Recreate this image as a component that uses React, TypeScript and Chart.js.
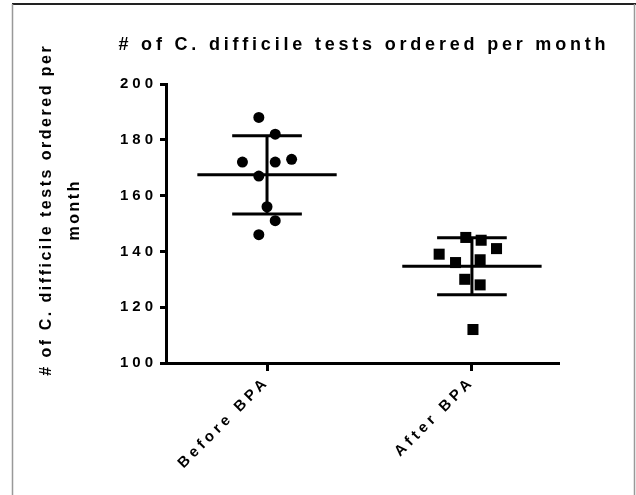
import { useEffect, useRef } from "react";
import { Chart, registerables } from "chart.js";

Chart.register(...registerables);

const categories = ["Before BPA", "After BPA"];
const beforeValues = [188, 182, 172, 172, 173, 167, 156, 151, 146];
const beforeJitter = [-0.04, 0.04, -0.12, 0.04, 0.12, -0.04, 0, 0.04, -0.04];
const afterValues = [145, 144, 139, 141, 136, 137, 130, 128, 112];
const afterJitter = [-0.03, 0.045, -0.16, 0.12, -0.08, 0.04, -0.035, 0.04, 0.005];
const yMin = 100;
const yMax = 200;
const yStep = 20;
const titleText = "# of C. difficile tests ordered per month";
const yTitleLines = ["# of C. difficile tests ordered per", "month"];

const FONT = "'Liberation Sans', Arial, Helvetica, sans-serif";
const TICK_SPACING = 4;

function meanSd(v: number[]) {
  const m = v.reduce((a, b) => a + b, 0) / v.length;
  const sd = Math.sqrt(v.reduce((a, b) => a + (b - m) * (b - m), 0) / (v.length - 1));
  return { m, sd };
}

const groups = [beforeValues, afterValues];

const spacingPlugin = {
  id: "spacing",
  beforeLayout(chart: any) {
    chart.ctx.letterSpacing = TICK_SPACING + "px";
  },
  beforeDraw(chart: any) {
    const ctx = chart.ctx;
    ctx.letterSpacing = TICK_SPACING + "px";
    ctx.save();
    ctx.fillStyle = "#fff";
    ctx.fillRect(0, 0, chart.width, chart.height);
    ctx.strokeStyle = "#222";
    ctx.lineWidth = 2;
    ctx.beginPath();
    ctx.moveTo(12, 4);
    ctx.lineTo(636, 4);
    ctx.stroke();
    ctx.strokeStyle = "#999";
    ctx.lineWidth = 1.5;
    ctx.beginPath();
    ctx.moveTo(12.5, 4);
    ctx.lineTo(12.5, 495);
    ctx.moveTo(634.5, 4);
    ctx.lineTo(634.5, 495);
    ctx.stroke();
    ctx.restore();
  },
};

const errorPlugin = {
  id: "errorbars",
  afterDatasetsDraw(chart: any) {
    const ctx = chart.ctx;
    const xs = chart.scales.x;
    const ys = chart.scales.y;
    ctx.save();
    ctx.strokeStyle = "#000";
    ctx.lineWidth = 3;
    groups.forEach((vals, i) => {
      const { m, sd } = meanSd(vals);
      const c = i + 1;
      const ym = ys.getPixelForValue(m);
      const yh = ys.getPixelForValue(m + sd);
      const yl = ys.getPixelForValue(m - sd);
      ctx.beginPath();
      ctx.moveTo(xs.getPixelForValue(c - 0.34), ym);
      ctx.lineTo(xs.getPixelForValue(c + 0.34), ym);
      ctx.moveTo(xs.getPixelForValue(c - 0.17), yh);
      ctx.lineTo(xs.getPixelForValue(c + 0.17), yh);
      ctx.moveTo(xs.getPixelForValue(c - 0.17), yl);
      ctx.lineTo(xs.getPixelForValue(c + 0.17), yl);
      ctx.moveTo(xs.getPixelForValue(c), yh);
      ctx.lineTo(xs.getPixelForValue(c), yl);
      ctx.stroke();
    });
    ctx.restore();
  },
  afterDraw(chart: any) {
    const ctx = chart.ctx;
    const area = chart.chartArea;
    ctx.save();
    ctx.fillStyle = "#000";
    ctx.textBaseline = "middle";
    ctx.textAlign = "left";
    // title
    ctx.font = `bold 18px ${FONT}`;
    ctx.letterSpacing = "3.8px";
    const w = ctx.measureText(titleText).width - 3.8;
    ctx.fillText(titleText, (area.left + area.right) / 2 - w / 2, 45);
    // y title
    ctx.font = `bold 16px ${FONT}`;
    ctx.letterSpacing = "2.5px";
    const xsPos = [47, 75];
    yTitleLines.forEach((line, i) => {
      const lw = ctx.measureText(line).width - 2.5;
      ctx.save();
      ctx.translate(xsPos[i], 211);
      ctx.rotate(-Math.PI / 2);
      ctx.fillText(line, -lw / 2, 0);
      ctx.restore();
    });
    ctx.restore();
  },
};

export default function App() {
  const ref = useRef<HTMLCanvasElement>(null);
  useEffect(() => {
    if (!ref.current) return;
    const chart = new Chart(ref.current, {
      type: "scatter",
      data: {
        datasets: [
          {
            label: categories[0],
            data: beforeValues.map((v, i) => ({ x: 1 + beforeJitter[i], y: v })),
            pointStyle: "circle",
            pointRadius: 5.5,
            pointBackgroundColor: "#000",
            pointBorderWidth: 0,
          },
          {
            label: categories[1],
            data: afterValues.map((v, i) => ({ x: 2 + afterJitter[i], y: v })),
            pointStyle: "rect",
            pointRadius: 7.8,
            pointBackgroundColor: "#000",
            pointBorderWidth: 0,
          },
        ],
      },
      options: {
        responsive: false,
        maintainAspectRatio: false,
        animation: false,
        layout: { padding: { left: 100, right: 78, top: 84, bottom: 0 } },
        plugins: {
          legend: { display: false },
          tooltip: { enabled: false },
          title: { display: false },
        },
        scales: {
          x: {
            type: "linear",
            min: 0.507,
            max: 2.42,
            afterBuildTicks: (s: any) => {
              s.ticks = categories.map((_, i) => ({ value: i + 1 }));
            },
            afterFit: (s: any) => {
              s.height = 132;
            },
            ticks: {
              callback: (v: any) => categories[Math.round(Number(v)) - 1] ?? "",
              minRotation: 45,
              maxRotation: 45,
              autoSkip: false,
              color: "#000",
              padding: 2,
              font: { family: FONT, size: 15, weight: "bold" },
            },
            grid: {
              display: true,
              drawOnChartArea: false,
              drawTicks: true,
              tickLength: 8,
              color: "#000",
              lineWidth: 3,
            },
            border: { display: true, color: "#000", width: 3 },
          },
          y: {
            type: "linear",
            min: yMin,
            max: yMax,
            afterFit: (s: any) => {
              s.width = 66;
            },
            ticks: {
              stepSize: yStep,
              color: "#000",
              padding: 3,
              font: { family: FONT, size: 15, weight: "bold" },
            },
            grid: {
              display: true,
              drawOnChartArea: false,
              drawTicks: true,
              tickLength: 6,
              color: "#000",
              lineWidth: 3,
            },
            border: { display: true, color: "#000", width: 3 },
          },
        },
      } as any,
      plugins: [spacingPlugin, errorPlugin],
    });
    return () => chart.destroy();
  }, []);
  return (
    <div style={{ position: "absolute", left: 0, top: 0, width: 636, height: 495 }}>
      <canvas ref={ref} width={636} height={495} style={{ display: "block" }} />
    </div>
  );
}
